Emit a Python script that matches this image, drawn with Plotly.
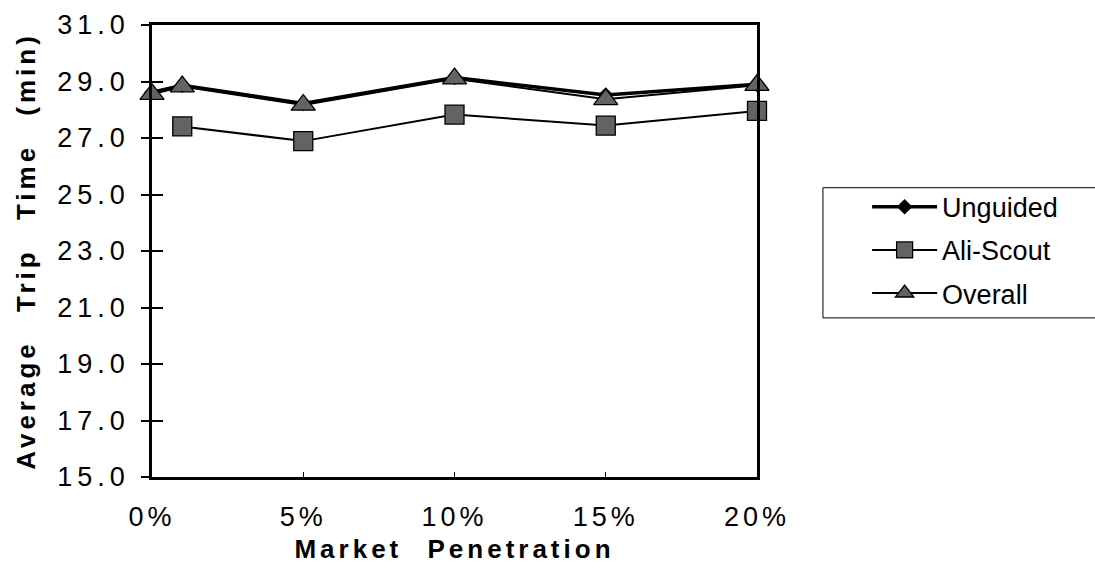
import plotly.graph_objects as go

# Market penetration (%) at which each run was made
penetration = [0, 1, 5, 10, 15, 20]
tick_vals = [0, 5, 10, 15, 20]
tick_text = ["0%", "5%", "10%", "15%", "20%"]

# Average trip time (min) per vehicle class
unguided = [28.62, 28.87, 28.22, 29.14, 28.52, 28.90]
ali_scout = [None, 27.41, 26.89, 27.83, 27.44, 27.96]
overall = [28.55, 28.82, 28.17, 29.10, 28.37, 28.87]

y_ticks = [15, 17, 19, 21, 23, 25, 27, 29, 31]

FILL = "#636363"
FONT = "Liberation Sans, Arial, Helvetica, sans-serif"

fig = go.Figure()
fig.add_trace(go.Scatter(
    x=penetration, y=unguided, name="Unguided", mode="lines+markers",
    line=dict(color="black", width=3.5),
    marker=dict(symbol="diamond", size=12, color="black"),
    cliponaxis=False, legendgroup="a",
))
fig.add_trace(go.Scatter(
    x=penetration, y=ali_scout, name="Ali-Scout", mode="lines+markers",
    line=dict(color="black", width=2),
    marker=dict(symbol="square", size=19, color=FILL,
                line=dict(color="black", width=1.3)),
    cliponaxis=False, legendgroup="b",
))
fig.add_trace(go.Scatter(
    x=penetration, y=overall, name="Overall", mode="lines+markers",
    line=dict(color="black", width=2),
    marker=dict(symbol="triangle-up", size=21, color=FILL,
                line=dict(color="black", width=1.3)),
    cliponaxis=False, legendgroup="c",
))
# second y axis only carries the inner half of the crossing tick marks
fig.add_trace(go.Scatter(x=[None], y=[None], yaxis="y2", showlegend=False,
                         hoverinfo="skip"))

# frame around the legend, open past the right edge of the page
fig.add_shape(type="rect", xref="paper", yref="paper",
              x0=1.109, x1=1.60, y0=0.352, y1=0.640,
              line=dict(color="black", width=1), fillcolor="white", layer="below")

TITLE_FONT = dict(size=26, family="Liberation Sans, Arial", weight="bold")

fig.update_layout(
    width=1095, height=572,
    margin=dict(l=152, r=338, t=25, b=95, autoexpand=False),
    paper_bgcolor="white", plot_bgcolor="white",
    font=dict(family=FONT, color="black"),
    showlegend=True,
    legend=dict(
        x=1.182, y=0.651, xanchor="left", yanchor="top",
        borderwidth=0, bgcolor="rgba(0,0,0,0)",
        font=dict(size=27, family=FONT), tracegroupgap=5,
        itemwidth=65,
    ),
    xaxis=dict(
        range=[0, 20], tickvals=tick_vals, ticktext=tick_text,
        ticks="inside", ticklen=5, tickwidth=1, tickcolor="black",
        showline=True, linewidth=2.5, linecolor="black", mirror=True,
        showgrid=False, zeroline=False,
        tickfont=dict(size=27), ticklabelstandoff=14,
        title=dict(text="Market Penetration", standoff=9, font=TITLE_FONT),
    ),
    yaxis=dict(
        range=[15, 31], tickvals=y_ticks, tickformat=".1f",
        ticks="outside", ticklen=8, tickwidth=1.5, tickcolor="black",
        showline=True, linewidth=2.5, linecolor="black", mirror=True,
        showgrid=False, zeroline=False,
        tickfont=dict(size=27), ticklabelstandoff=6,
        title=dict(text="Average Trip Time (min)", standoff=35, font=TITLE_FONT),
    ),
    yaxis2=dict(
        range=[15, 31], tickvals=y_ticks, overlaying="y", side="left",
        ticks="inside", ticklen=11, tickwidth=1.5, tickcolor="black",
        showticklabels=False, showgrid=False, zeroline=False, showline=False,
    ),
)

# widen the letter spacing of axis texts
spacing_js = """
var gd = document.getElementById('{plot_id}');
function spread(sel, ls, ws) {
  gd.querySelectorAll(sel).forEach(function (t) {
    t.style.letterSpacing = ls + 'px';
    if (ws) { t.style.wordSpacing = ws + 'px'; }
  });
}
spread('.ytick text', 5);
spread('.xtick text', 4);
spread('.xtitle', 4, 14);
spread('.ytitle', 4, 17);
"""

fig.write_html("out.html", post_script=spacing_js)
